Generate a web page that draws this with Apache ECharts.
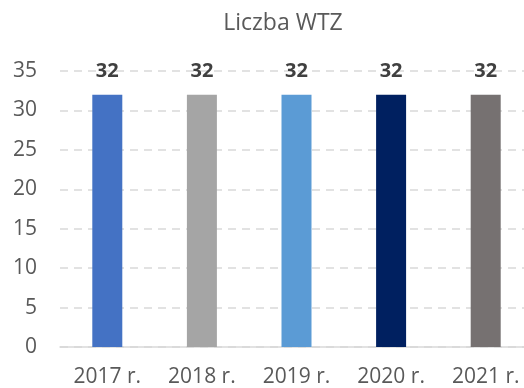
<!DOCTYPE html>
<html>
<head>
<meta charset="utf-8">
<script src="https://cdn.jsdelivr.net/npm/echarts@6/dist/echarts.min.js"></script>
<style>
  html, body { margin: 0; padding: 0; background: #ffffff; overflow: hidden; }
  /* plot runs slightly past the right edge of the window */
  #chart { width: 533px; height: 388px; }
</style>
</head>
<body>
<div id="chart"></div>
<script>
// Number of WTZ per year
const categories = ['2017 r.', '2018 r.', '2019 r.', '2020 r.', '2021 r.'];
const values = [32, 32, 32, 32, 32];
const barColors = ['#4472C4', '#A5A5A5', '#5B9BD5', '#002060', '#767171'];
const yTicks = { min: 0, max: 35, interval: 5 };

const font = 'Open Sans';
const chart = echarts.init(document.getElementById('chart'), null, { renderer: 'canvas' });

chart.setOption({
  animation: false,
  title: {
    text: 'Liczba WTZ',
    left: 278,
    textAlign: 'center',
    top: 7,
    textStyle: { fontFamily: font, fontSize: 23, fontWeight: 'normal', color: '#595959' }
  },
  grid: { left: 60, right: 0, top: 71, bottom: 41, containLabel: false },
  xAxis: {
    type: 'category',
    data: categories,
    axisLine: { lineStyle: { color: '#D9D9D9', width: 1.5 } },
    axisTick: { show: false },
    axisLabel: { fontFamily: font, fontSize: 21, color: '#595959', margin: 20 }
  },
  yAxis: {
    type: 'value',
    min: yTicks.min,
    max: yTicks.max,
    interval: yTicks.interval,
    axisLine: { show: false },
    axisTick: { show: false },
    axisLabel: { fontFamily: font, fontSize: 21, color: '#595959', margin: 23 },
    splitLine: { lineStyle: { color: '#D9D9D9', type: [8, 6], width: 1.5 } }
  },
  series: [{
    type: 'bar',
    data: values.map((v, i) => ({ value: v, itemStyle: { color: barColors[i] } })),
    barWidth: 30,
    label: {
      show: true,
      position: 'top',
      distance: 13,
      fontFamily: font,
      fontSize: 20,
      fontWeight: 'bold',
      color: '#404040'
    }
  }]
});
</script>
</body>
</html>
